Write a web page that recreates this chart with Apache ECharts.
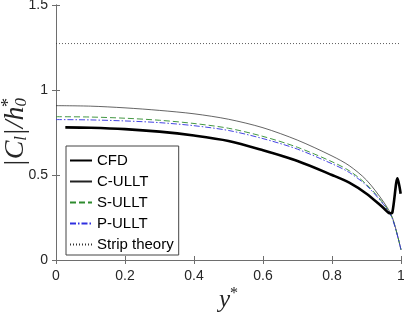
<!DOCTYPE html>
<html><head><meta charset="utf-8">
<script src="https://cdn.jsdelivr.net/npm/echarts@6/dist/echarts.min.js"></script>
<style>html,body{margin:0;padding:0;background:#fff}#c{width:404px;height:312px}</style>
</head><body><div id="c"></div>
<script>
const xTicks = [0, 0.2, 0.4, 0.6, 0.8, 1];
const yTicks = [0, 0.5, 1, 1.5];

const cfdY = [0.027, 0.1, 0.2, 0.3, 0.4, 0.5, 0.6, 0.7, 0.8, 0.85, 0.9, 0.95, 0.968, 0.975, 0.990, 0.999];
const cfdV = [0.78, 0.778, 0.77, 0.755, 0.732, 0.70, 0.645, 0.582, 0.50, 0.455, 0.39, 0.305, 0.275, 0.28, 0.48, 0.39];

const cY = [0, 0.1, 0.2, 0.3, 0.4, 0.5, 0.6, 0.7, 0.8, 0.85, 0.9, 0.95, 0.975, 1];
const cV = [0.908, 0.905, 0.895, 0.88, 0.86, 0.828, 0.778, 0.705, 0.612, 0.555, 0.47, 0.34, 0.25, 0.06];

const sY = [0, 0.1, 0.2, 0.3, 0.4, 0.5, 0.6, 0.7, 0.8, 0.85, 0.9, 0.95, 0.975, 1];
const sV = [0.843, 0.841, 0.834, 0.822, 0.803, 0.775, 0.727, 0.663, 0.578, 0.525, 0.445, 0.33, 0.245, 0.06];

const pY = [0, 0.1, 0.2, 0.3, 0.4, 0.5, 0.6, 0.7, 0.8, 0.85, 0.9, 0.95, 0.975, 1];
const pV = [0.826, 0.824, 0.818, 0.808, 0.79, 0.762, 0.714, 0.652, 0.566, 0.515, 0.438, 0.325, 0.243, 0.06];

const stripY = [0, 1];
const stripV = [1.2732, 1.2732];

const zip = (a, b) => a.map((v, i) => [v, b[i]]);
const labelStyle = {color: '#262626', fontSize: 14, fontFamily: 'Liberation Sans'};
const axisCol = '#6e6e6e';
const serif = 'Liberation Serif';

const chart = echarts.init(document.getElementById('c'), null, {renderer: 'canvas'});
chart.setOption({
  animation: false,
  backgroundColor: '#fff',
  grid: {left: 56, right: 3, top: 5, bottom: 52, containLabel: false, outerBoundsMode: 'none'},
  xAxis: [{
    type: 'value', min: 0, max: 1, interval: 0.2, position: 'bottom',
    axisLine: {show: true, lineStyle: {color: axisCol, width: 1}},
    axisTick: {show: true, inside: true, length: 4, lineStyle: {color: axisCol}},
    axisLabel: Object.assign({margin: 9, formatter: v => String(+v.toFixed(1))}, labelStyle),
    splitLine: {show: false},
    name: '{a|y}{b|*}', nameLocation: 'middle', nameGap: 26, nameMoveOverlap: false,
    nameTextStyle: {
      rich: {
        a: {fontFamily: serif, fontStyle: 'italic', fontSize: 25, color: '#262626'},
        b: {fontFamily: serif, fontSize: 16, color: '#262626', padding: [0, 0, 12, 0]}
      }
    }
  }, {
    type: 'value', min: 0, max: 1, interval: 0.2, position: 'top',
    axisLine: {show: true, lineStyle: {color: axisCol, width: 1}},
    axisTick: {show: true, inside: true, length: 4, lineStyle: {color: axisCol}},
    axisLabel: {show: false}, splitLine: {show: false}
  }],
  yAxis: [{
    type: 'value', min: 0, max: 1.5, interval: 0.5, position: 'left',
    axisLine: {show: true, lineStyle: {color: axisCol, width: 1}},
    axisTick: {show: true, inside: true, length: 4, lineStyle: {color: axisCol}},
    axisLabel: Object.assign({margin: 8}, labelStyle),
    splitLine: {show: false},
    name: '{n||C}{s|l}{n||/h}{s|0}{u|*}', nameLocation: 'middle', nameGap: 25, nameRotate: 90,
    nameMoveOverlap: false,
    nameTextStyle: {
      rich: {
        n: {fontFamily: serif, fontStyle: 'italic', fontSize: 28, color: '#262626'},
        s: {fontFamily: serif, fontStyle: 'italic', fontSize: 17, color: '#262626', padding: [13, 0, 0, 0]},
        u: {fontFamily: serif, fontSize: 18, color: '#262626', padding: [0, 0, 13, -9]}
      }
    }
  }, {
    type: 'value', min: 0, max: 1.5, interval: 0.5, position: 'right',
    axisLine: {show: true, lineStyle: {color: axisCol, width: 1}},
    axisTick: {show: true, inside: true, length: 4, lineStyle: {color: axisCol}},
    axisLabel: {show: false}, splitLine: {show: false}
  }],
  legend: {
    orient: 'vertical', left: 66, top: 146,
    padding: [7, 5, 3, 3],
    itemWidth: 22, itemHeight: 14, itemGap: 6,
    borderColor: '#444', borderWidth: 1, borderRadius: 0,
    backgroundColor: '#fff',
    itemStyle: {opacity: 0},
    textStyle: {fontFamily: 'Liberation Sans', fontSize: 15, color: '#000', lineHeight: 14},
    data: ['CFD', 'C-ULLT', 'S-ULLT', 'P-ULLT', 'Strip theory']
  },
  series: [
    {name: 'Strip theory', type: 'line', data: zip(stripY, stripV), symbol: 'none', color: '#333',
      lineStyle: {color: '#333', width: 0.8, type: [1, 2]}, z: 2},
    {name: 'C-ULLT', type: 'line', data: zip(cY, cV), symbol: 'none', smooth: 0.3, color: '#222',
      lineStyle: {color: '#222', width: 0.7}, z: 3},
    {name: 'S-ULLT', type: 'line', data: zip(sY, sV), symbol: 'none', smooth: 0.3, color: '#2e8b2e',
      lineStyle: {color: '#2e8b2e', width: 0.9, type: [6, 3]}, z: 4},
    {name: 'P-ULLT', type: 'line', data: zip(pY, pV), symbol: 'none', smooth: 0.3, color: '#3030e0',
      lineStyle: {color: '#3030e0', width: 0.9, type: [6, 2, 1.5, 2]}, z: 5},
    {name: 'CFD', type: 'line', data: zip(cfdY, cfdV), symbol: 'none', smooth: 0.3, color: '#000',
      lineStyle: {color: '#000', width: 2.6}, z: 6}
  ]
});
</script>
</body></html>
